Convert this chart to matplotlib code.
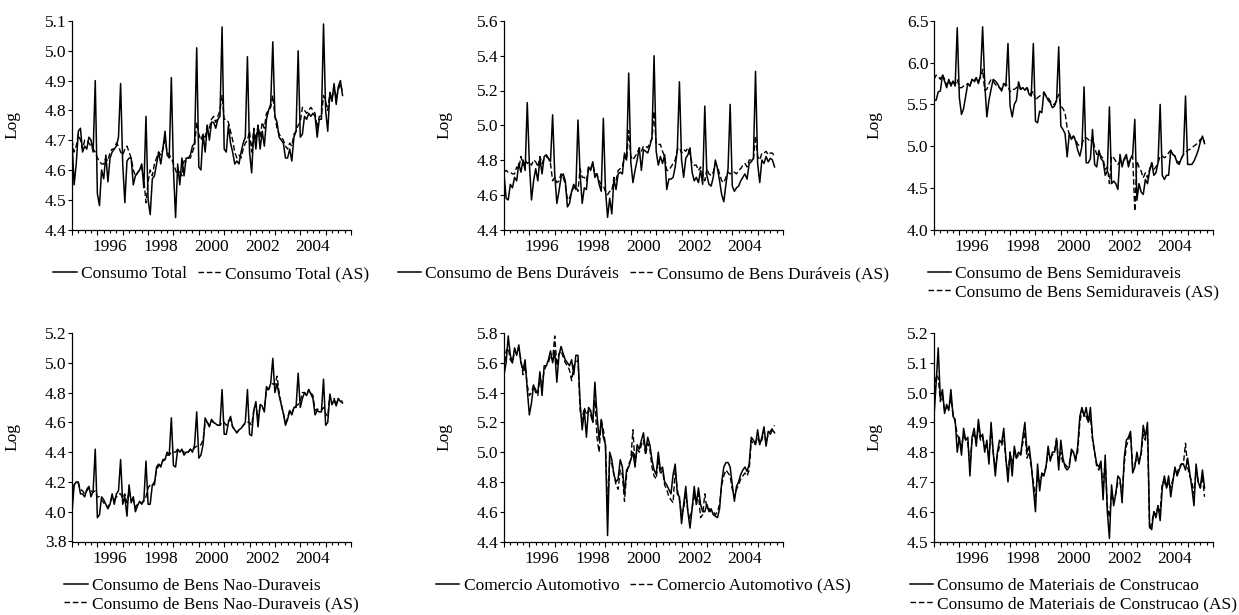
import numpy as np
import matplotlib
matplotlib.use("Agg")
import matplotlib.pyplot as plt
from matplotlib.ticker import MultipleLocator, FormatStrFormatter

plt.rcParams["font.family"] = ["Liberation Serif", "DejaVu Serif"]
plt.rcParams["font.size"] = 12.5

START = 1995          # first observation: Jan 1995, monthly
LABEL_YEARS = [1996, 1998, 2000, 2002, 2004]

# monthly log series, one row per year (1995 ... 2004, then 2005 Jan-Sep)
tot = [4.70, 4.55, 4.62, 4.73, 4.74, 4.66, 4.68, 4.67, 4.71, 4.70, 4.66, 4.90,
       4.52, 4.48, 4.60, 4.57, 4.65, 4.56, 4.64, 4.66, 4.67, 4.68, 4.71, 4.89,
       4.62, 4.49, 4.63, 4.64, 4.64, 4.55, 4.58, 4.59, 4.60, 4.62, 4.54, 4.78,
       4.50, 4.45, 4.57, 4.58, 4.62, 4.66, 4.62, 4.67, 4.73, 4.65, 4.64, 4.91,
       4.60, 4.44, 4.62, 4.55, 4.64, 4.58, 4.64, 4.64, 4.65, 4.68, 4.69, 5.01,
       4.61, 4.60, 4.72, 4.66, 4.75, 4.70, 4.76, 4.76, 4.74, 4.77, 4.78, 5.08,
       4.67, 4.66, 4.75, 4.69, 4.66, 4.62, 4.63, 4.62, 4.66, 4.69, 4.71, 4.98,
       4.66, 4.59, 4.73, 4.67, 4.75, 4.67, 4.73, 4.68, 4.77, 4.80, 4.82, 5.03,
       4.78, 4.76, 4.71, 4.70, 4.69, 4.64, 4.64, 4.67, 4.63, 4.71, 4.73, 5.00,
       4.71, 4.72, 4.78, 4.77, 4.79, 4.78, 4.79, 4.78, 4.71, 4.77, 4.77, 5.09,
       4.80, 4.73, 4.86, 4.83, 4.89, 4.82, 4.88, 4.90, 4.85]
tot_as = [4.70, 4.66, 4.68, 4.72, 4.70, 4.67, 4.70, 4.70, 4.69, 4.68, 4.67, 4.66,
          4.64, 4.63, 4.62, 4.62, 4.64, 4.63, 4.66, 4.67, 4.67, 4.69, 4.68, 4.66,
          4.65, 4.67, 4.68, 4.66, 4.64, 4.60, 4.58, 4.59, 4.60, 4.61, 4.57, 4.49,
          4.56, 4.60, 4.58, 4.62, 4.64, 4.66, 4.65, 4.67, 4.70, 4.66, 4.65, 4.64,
          4.62, 4.60, 4.58, 4.60, 4.58, 4.63, 4.63, 4.64, 4.64, 4.66, 4.68, 4.76,
          4.72, 4.70, 4.72, 4.71, 4.75, 4.74, 4.77, 4.78, 4.76, 4.78, 4.80, 4.85,
          4.77, 4.77, 4.76, 4.73, 4.70, 4.66, 4.64, 4.65, 4.64, 4.67, 4.69, 4.70,
          4.73, 4.66, 4.74, 4.70, 4.75, 4.71, 4.76, 4.74, 4.79, 4.80, 4.81, 4.85,
          4.78, 4.74, 4.72, 4.71, 4.70, 4.68, 4.67, 4.69, 4.68, 4.72, 4.73, 4.75,
          4.76, 4.81, 4.80, 4.79, 4.80, 4.81, 4.80, 4.79, 4.74, 4.78, 4.78, 4.85,
          4.83, 4.80, 4.86, 4.84, 4.88, 4.84, 4.87, 4.89, 4.86]

dur = [4.72, 4.58, 4.57, 4.66, 4.64, 4.70, 4.68, 4.78, 4.73, 4.80, 4.74, 5.13,
       4.78, 4.57, 4.68, 4.75, 4.68, 4.81, 4.72, 4.82, 4.83, 4.81, 4.79, 5.06,
       4.72, 4.55, 4.62, 4.70, 4.72, 4.68, 4.53, 4.55, 4.62, 4.66, 4.63, 5.03,
       4.72, 4.55, 4.64, 4.63, 4.76, 4.74, 4.79, 4.70, 4.72, 4.66, 4.62, 5.04,
       4.63, 4.47, 4.58, 4.49, 4.69, 4.63, 4.72, 4.73, 4.72, 4.84, 4.80, 5.30,
       4.79, 4.67, 4.74, 4.80, 4.87, 4.74, 4.86, 4.85, 4.84, 4.88, 4.93, 5.40,
       4.85, 4.77, 4.82, 4.78, 4.83, 4.63, 4.69, 4.69, 4.70, 4.76, 4.86, 5.25,
       4.80, 4.70, 4.81, 4.83, 4.87, 4.73, 4.68, 4.70, 4.67, 4.74, 4.66, 5.11,
       4.71, 4.66, 4.65, 4.70, 4.80, 4.75, 4.68, 4.60, 4.56, 4.66, 4.75, 5.12,
       4.65, 4.62, 4.64, 4.65, 4.68, 4.70, 4.72, 4.69, 4.78, 4.79, 4.81, 5.31,
       4.78, 4.67, 4.80, 4.78, 4.82, 4.79, 4.81, 4.80, 4.76]
dur_as = [4.73, 4.74, 4.73, 4.73, 4.72, 4.72, 4.76, 4.75, 4.82, 4.77, 4.80, 4.78,
          4.79, 4.77, 4.80, 4.79, 4.76, 4.82, 4.78, 4.81, 4.82, 4.81, 4.78, 4.68,
          4.70, 4.67, 4.68, 4.72, 4.70, 4.66, 4.57, 4.58, 4.62, 4.64, 4.65, 4.62,
          4.75, 4.70, 4.70, 4.68, 4.76, 4.75, 4.78, 4.72, 4.72, 4.68, 4.66, 4.65,
          4.62, 4.60, 4.62, 4.62, 4.70, 4.68, 4.74, 4.75, 4.76, 4.82, 4.80, 4.97,
          4.82, 4.80, 4.82, 4.84, 4.87, 4.85, 4.88, 4.88, 4.87, 4.90, 4.92, 5.08,
          4.89, 4.89, 4.89, 4.85, 4.82, 4.74, 4.74, 4.76, 4.78, 4.80, 4.86, 4.87,
          4.84, 4.86, 4.85, 4.87, 4.83, 4.78, 4.77, 4.77, 4.74, 4.76, 4.72, 4.68,
          4.75, 4.72, 4.71, 4.73, 4.78, 4.76, 4.72, 4.68, 4.67, 4.70, 4.73, 4.72,
          4.73, 4.73, 4.72, 4.74, 4.75, 4.77, 4.78, 4.76, 4.80, 4.80, 4.80, 4.94,
          4.82, 4.80, 4.84, 4.84, 4.85, 4.83, 4.84, 4.84, 4.82]

semi = [5.55, 5.55, 5.65, 5.66, 5.85, 5.78, 5.70, 5.80, 5.72, 5.78, 5.72, 6.42,
        5.58, 5.38, 5.45, 5.60, 5.75, 5.72, 5.80, 5.78, 5.82, 5.75, 5.85, 6.43,
        5.75, 5.35, 5.55, 5.68, 5.80, 5.78, 5.75, 5.70, 5.66, 5.75, 5.72, 6.23,
        5.48, 5.35, 5.50, 5.55, 5.77, 5.68, 5.70, 5.67, 5.70, 5.62, 5.60, 6.23,
        5.30, 5.28, 5.42, 5.40, 5.65, 5.60, 5.55, 5.52, 5.46, 5.48, 5.55, 6.19,
        5.24, 5.20, 5.15, 4.87, 5.15, 5.08, 5.12, 5.06, 4.95, 4.88, 5.00, 5.71,
        4.80, 4.80, 4.85, 5.20, 4.78, 4.75, 4.95, 4.85, 4.82, 4.65, 4.70, 5.47,
        4.55, 4.58, 4.55, 4.48, 4.90, 4.75, 4.85, 4.90, 4.75, 4.85, 4.90, 5.32,
        4.35, 4.55, 4.45, 4.42, 4.60, 4.55, 4.70, 4.80, 4.65, 4.68, 4.80, 5.50,
        4.65, 4.60, 4.65, 4.65, 4.95, 4.90, 4.88, 4.80, 4.78, 4.85, 4.90, 5.60,
        4.78, 4.78, 4.78, 4.82, 4.88, 4.95, 5.05, 5.12, 5.03]
semi_as = [5.80, 5.85, 5.84, 5.80, 5.86, 5.80, 5.73, 5.78, 5.74, 5.78, 5.74, 5.80,
           5.70, 5.70, 5.72, 5.72, 5.75, 5.72, 5.80, 5.76, 5.82, 5.78, 5.82, 5.92,
           5.67, 5.68, 5.75, 5.80, 5.78, 5.74, 5.72, 5.70, 5.68, 5.75, 5.74, 5.72,
           5.65, 5.68, 5.68, 5.70, 5.72, 5.68, 5.70, 5.68, 5.70, 5.65, 5.62, 5.66,
           5.55, 5.58, 5.60, 5.62, 5.64, 5.60, 5.58, 5.54, 5.50, 5.50, 5.55, 5.62,
           5.48, 5.45, 5.40, 5.22, 5.15, 5.10, 5.12, 5.08, 5.02, 5.00, 5.02, 5.10,
           5.10, 5.08, 5.05, 5.10, 4.98, 4.90, 4.92, 4.88, 4.85, 4.72, 4.75, 4.55,
           4.88, 4.86, 4.82, 4.78, 4.82, 4.80, 4.84, 4.86, 4.80, 4.84, 4.88, 4.22,
           4.82, 4.75, 4.70, 4.62, 4.68, 4.62, 4.72, 4.80, 4.72, 4.75, 4.80, 4.88,
           4.88, 4.86, 4.88, 4.92, 4.95, 4.90, 4.88, 4.82, 4.80, 4.85, 4.90, 4.92,
           4.95, 4.96, 4.98, 5.00, 5.02, 5.04, 5.08, 5.10, 5.05]

nd = [3.99, 4.18, 4.20, 4.20, 4.12, 4.12, 4.10, 4.15, 4.17, 4.10, 4.14, 4.42,
      3.96, 3.98, 4.10, 4.08, 4.05, 4.02, 4.05, 4.12, 4.05, 4.12, 4.14, 4.35,
      4.05, 4.10, 3.97, 4.18, 4.06, 4.10, 4.00, 4.04, 4.07, 4.05, 4.08, 4.34,
      4.05, 4.05, 4.18, 4.18, 4.30, 4.32, 4.30, 4.35, 4.35, 4.40, 4.38, 4.63,
      4.31, 4.30, 4.42, 4.40, 4.42, 4.38, 4.40, 4.40, 4.42, 4.40, 4.45, 4.67,
      4.36, 4.38, 4.45, 4.63, 4.60, 4.57, 4.62, 4.60, 4.59, 4.58, 4.58, 4.82,
      4.52, 4.52, 4.60, 4.64, 4.57, 4.55, 4.53, 4.55, 4.56, 4.58, 4.60, 4.82,
      4.52, 4.51, 4.68, 4.74, 4.57, 4.72, 4.71, 4.67, 4.84, 4.82, 4.86, 5.03,
      4.80, 4.86, 4.78, 4.72, 4.66, 4.58, 4.62, 4.68, 4.65, 4.70, 4.70, 4.93,
      4.70, 4.76, 4.80, 4.78, 4.82, 4.79, 4.76, 4.65, 4.68, 4.67, 4.67, 4.89,
      4.58, 4.60, 4.79, 4.72, 4.75, 4.71, 4.76, 4.74, 4.73]
nd_as = [4.10, 4.18, 4.20, 4.19, 4.15, 4.14, 4.12, 4.14, 4.16, 4.14, 4.13, 4.14,
         4.10, 4.10, 4.08, 4.06, 4.04, 4.03, 4.06, 4.10, 4.08, 4.10, 4.12, 4.12,
         4.09, 4.12, 4.06, 4.14, 4.08, 4.08, 4.03, 4.05, 4.06, 4.06, 4.07, 4.10,
         4.16, 4.18, 4.18, 4.20, 4.28, 4.31, 4.32, 4.34, 4.35, 4.38, 4.38, 4.40,
         4.40, 4.40, 4.42, 4.41, 4.41, 4.40, 4.40, 4.40, 4.42, 4.41, 4.43, 4.44,
         4.44, 4.45, 4.48, 4.60, 4.60, 4.58, 4.61, 4.60, 4.59, 4.58, 4.58, 4.60,
         4.60, 4.58, 4.61, 4.62, 4.57, 4.55, 4.53, 4.55, 4.56, 4.58, 4.59, 4.60,
         4.60, 4.58, 4.68, 4.72, 4.62, 4.71, 4.70, 4.68, 4.82, 4.82, 4.85, 4.86,
         4.85, 4.91, 4.80, 4.72, 4.66, 4.60, 4.63, 4.68, 4.66, 4.70, 4.71, 4.72,
         4.74, 4.80, 4.80, 4.78, 4.82, 4.80, 4.78, 4.68, 4.69, 4.68, 4.68, 4.70,
         4.66, 4.64, 4.78, 4.72, 4.76, 4.72, 4.76, 4.75, 4.74]

auto = [5.52, 5.60, 5.78, 5.65, 5.60, 5.70, 5.65, 5.72, 5.60, 5.55, 5.62, 5.42,
        5.25, 5.33, 5.45, 5.40, 5.40, 5.54, 5.38, 5.58, 5.58, 5.62, 5.68, 5.60,
        5.68, 5.47, 5.65, 5.71, 5.66, 5.62, 5.60, 5.58, 5.62, 5.52, 5.65, 5.65,
        5.33, 5.15, 5.28, 5.10, 5.30, 5.28, 5.20, 5.47, 5.25, 5.08, 5.22, 5.10,
        5.05, 4.44, 5.00, 4.95, 4.85, 4.80, 4.82, 4.95, 4.90, 4.72, 4.88, 4.90,
        4.95, 5.00, 4.90, 5.05, 5.02, 5.08, 5.13, 5.00, 5.10, 5.05, 4.95, 4.88,
        4.85, 5.00, 4.88, 4.90, 4.80, 4.78, 4.75, 4.72, 4.85, 4.92, 4.72, 4.70,
        4.52, 4.65, 4.77, 4.60, 4.49, 4.62, 4.77, 4.65, 4.76, 4.65, 4.60, 4.60,
        4.65, 4.60, 4.62, 4.58, 4.57, 4.56, 4.62, 4.80, 4.90, 4.93, 4.93, 4.90,
        4.78, 4.67, 4.77, 4.80, 4.85, 4.88, 4.90, 4.87, 4.92, 5.10, 5.08, 5.05,
        5.15, 5.05, 5.10, 5.17, 5.04, 5.14, 5.12, 5.15, 5.13]
auto_as = [5.55, 5.68, 5.70, 5.62, 5.60, 5.68, 5.66, 5.70, 5.62, 5.52, 5.58, 5.45,
           5.38, 5.40, 5.45, 5.42, 5.38, 5.50, 5.45, 5.55, 5.58, 5.60, 5.65, 5.62,
           5.78, 5.58, 5.66, 5.68, 5.64, 5.60, 5.58, 5.55, 5.48, 5.58, 5.60, 5.62,
           5.28, 5.22, 5.30, 5.25, 5.28, 5.25, 5.20, 5.35, 5.10, 5.00, 5.22, 5.15,
           5.05, 4.62, 4.95, 4.92, 4.85, 4.78, 4.75, 4.88, 4.85, 4.67, 4.85, 4.92,
           4.95, 5.15, 4.92, 5.02, 5.00, 5.05, 5.08, 4.98, 5.06, 5.02, 4.90, 4.84,
           4.82, 4.95, 4.85, 4.88, 4.78, 4.75, 4.70, 4.68, 4.66, 4.88, 4.75, 4.68,
           4.58, 4.62, 4.72, 4.60, 4.55, 4.62, 4.72, 4.65, 4.72, 4.56, 4.58, 4.72,
           4.62, 4.62, 4.60, 4.60, 4.58, 4.60, 4.65, 4.78, 4.84, 4.88, 4.86, 4.84,
           4.75, 4.70, 4.75, 4.78, 4.82, 4.84, 4.86, 4.84, 4.88, 5.08, 5.05, 5.06,
           5.10, 5.06, 5.08, 5.14, 5.06, 5.12, 5.14, 5.16, 5.18]

mat = [4.92, 5.03, 5.15, 4.98, 5.01, 4.93, 4.96, 4.94, 5.01, 4.92, 4.91, 4.80,
       4.85, 4.79, 4.88, 4.84, 4.85, 4.72, 4.85, 4.88, 4.82, 4.91, 4.85, 4.86,
       4.80, 4.84, 4.76, 4.90, 4.80, 4.72, 4.80, 4.84, 4.83, 4.88, 4.78, 4.70,
       4.80, 4.72, 4.82, 4.78, 4.80, 4.79, 4.85, 4.90, 4.80, 4.82, 4.76, 4.68,
       4.60, 4.76, 4.67, 4.73, 4.72, 4.75, 4.82, 4.77, 4.80, 4.80, 4.84, 4.74,
       4.84, 4.78, 4.75, 4.74, 4.75, 4.81, 4.80, 4.77, 4.82, 4.92, 4.95, 4.92,
       4.95, 4.90, 4.95, 4.85, 4.80, 4.76, 4.75, 4.77, 4.64, 4.79, 4.60, 4.51,
       4.69, 4.62, 4.66, 4.72, 4.71, 4.63, 4.78, 4.84, 4.85, 4.87, 4.73, 4.75,
       4.80, 4.76, 4.80, 4.89, 4.85, 4.90, 4.55, 4.54, 4.60, 4.58, 4.62, 4.57,
       4.68, 4.72, 4.68, 4.72, 4.65, 4.70, 4.75, 4.72, 4.74, 4.76, 4.76, 4.74,
       4.78, 4.73, 4.68, 4.62, 4.76, 4.70, 4.68, 4.74, 4.68]
mat_as = [4.95, 5.06, 5.05, 4.97, 4.99, 4.94, 4.95, 4.95, 4.98, 4.93, 4.90, 4.86,
          4.84, 4.82, 4.86, 4.84, 4.83, 4.76, 4.84, 4.86, 4.83, 4.88, 4.84, 4.85,
          4.82, 4.82, 4.78, 4.88, 4.80, 4.75, 4.79, 4.82, 4.82, 4.86, 4.77, 4.73,
          4.80, 4.76, 4.80, 4.78, 4.79, 4.79, 4.83, 4.87, 4.78, 4.80, 4.75, 4.70,
          4.65, 4.72, 4.70, 4.72, 4.73, 4.75, 4.80, 4.78, 4.79, 4.80, 4.85, 4.76,
          4.80, 4.76, 4.76, 4.75, 4.76, 4.80, 4.80, 4.78, 4.80, 4.90, 4.94, 4.93,
          4.92, 4.90, 4.92, 4.84, 4.80, 4.75, 4.74, 4.76, 4.68, 4.77, 4.62, 4.58,
          4.66, 4.64, 4.66, 4.70, 4.70, 4.66, 4.76, 4.82, 4.84, 4.86, 4.75, 4.76,
          4.78, 4.77, 4.79, 4.86, 4.84, 4.88, 4.54, 4.56, 4.60, 4.59, 4.62, 4.60,
          4.70, 4.70, 4.68, 4.70, 4.68, 4.71, 4.74, 4.73, 4.75, 4.76, 4.76, 4.83,
          4.75, 4.72, 4.70, 4.66, 4.74, 4.70, 4.68, 4.72, 4.65]

names = ["Consumo Total", "Consumo de Bens Duráveis", "Consumo de Bens Semiduraveis",
         "Consumo de Bens Nao-Duraveis", "Comercio Automotivo",
         "Consumo de Materiais de Construcao"]
raw = [tot, dur, semi, nd, auto, mat]
adj = [tot_as, dur_as, semi_as, nd_as, auto_as, mat_as]
ylims = [(4.4, 5.1), (4.4, 5.6), (4.0, 6.5), (3.8, 5.2), (4.4, 5.8), (4.5, 5.2)]
ysteps = [0.1, 0.2, 0.5, 0.2, 0.2, 0.1]
legend_cols = [2, 2, 1, 1, 2, 1]

W, H = 1239, 615
fig = plt.figure(figsize=(W / 100, H / 100), dpi=100)
lefts = [72, 504, 934]
tops = [21, 333]
aw, ah = 279, 208.5

for i in range(6):
    r, c = divmod(i, 3)
    ax = fig.add_axes([lefts[c] / W, 1 - (tops[r] + ah) / H, aw / W, ah / H])
    y1 = np.array(raw[i])
    y2 = np.array(adj[i])
    t1 = START + np.arange(len(y1)) / 12
    t2 = START + np.arange(len(y2)) / 12
    ax.plot(t1, y1, color="black", lw=1.1, label=names[i])
    ax.plot(t2, y2, color="black", lw=1.0, dashes=(4, 2), label=names[i] + " (AS)")

    ax.set_xlim(1995, 2006)
    ax.set_ylim(*ylims[i])
    ax.yaxis.set_major_locator(MultipleLocator(ysteps[i]))
    ax.yaxis.set_major_formatter(FormatStrFormatter("%.1f"))
    ax.xaxis.set_major_locator(MultipleLocator(1))
    ax.xaxis.set_minor_locator(MultipleLocator(0.25))
    ax.set_xticklabels([])
    ax.tick_params(axis="x", which="major", length=3.5, width=0.8, direction="out")
    ax.tick_params(axis="x", which="minor", length=2.2, width=0.8, direction="out")
    ax.tick_params(axis="y", length=3, width=0.8, pad=1)
    for yr in LABEL_YEARS:
        ax.annotate(str(yr), (yr + 0.5, 0), xycoords=("data", "axes fraction"),
                    xytext=(0, -7), textcoords="offset points", ha="center", va="top")
    for s in ("top", "right"):
        ax.spines[s].set_visible(False)
    for s in ("left", "bottom"):
        ax.spines[s].set_linewidth(0.9)
    ax.set_ylabel("Log")
    ax.yaxis.set_label_coords(-0.186, 0.5)

    ax.legend(loc="upper center", bbox_to_anchor=(0.5, -0.175), ncol=legend_cols[i],
              frameon=False, borderpad=0, borderaxespad=0, handlelength=1.35,
              handletextpad=0.25, columnspacing=0.6, labelspacing=0.12)

fig.savefig("out.png", dpi=100)
